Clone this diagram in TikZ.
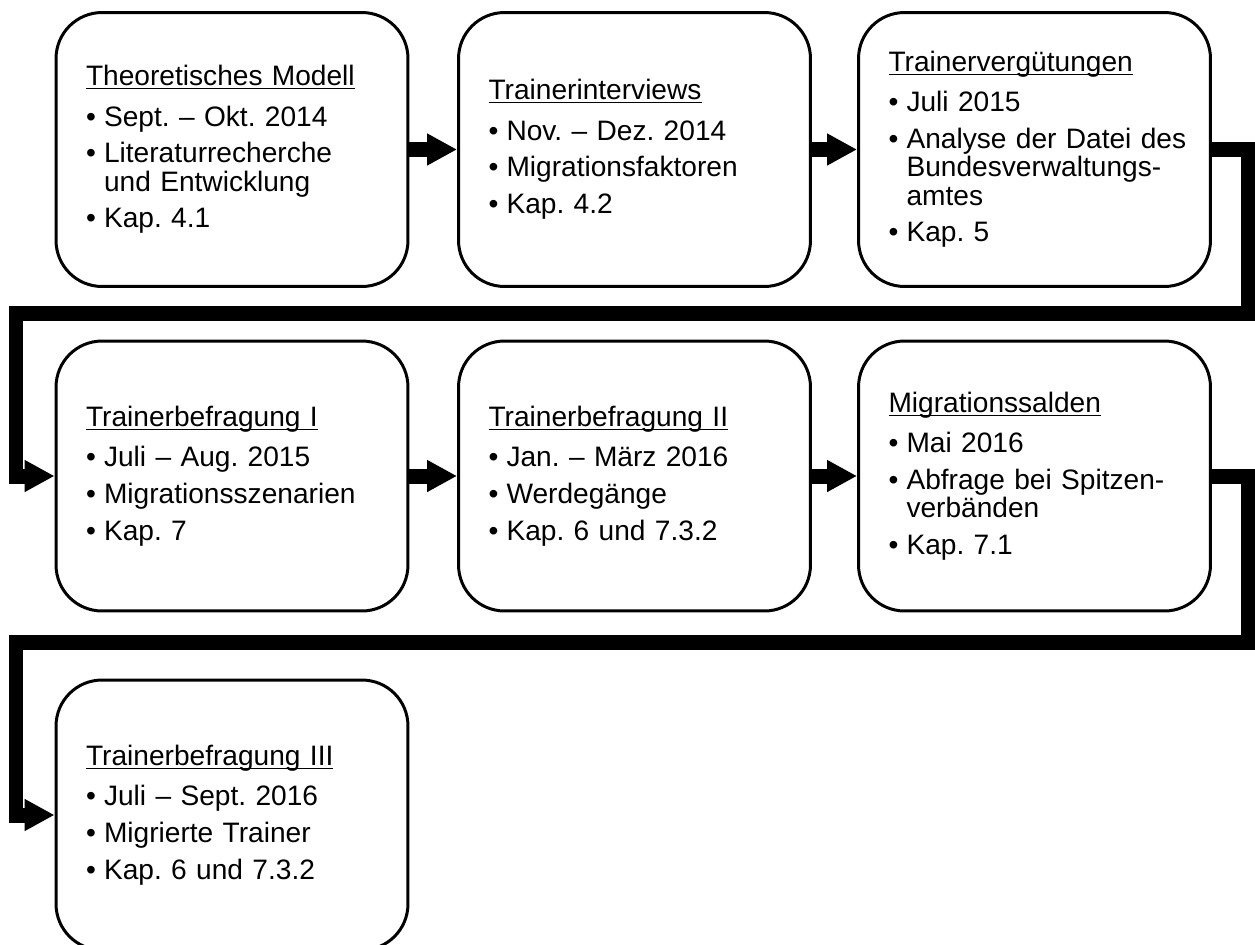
\documentclass[tikz,border=0pt]{standalone}
\usepackage{fontspec}
\setmainfont{Liberation Sans}
\usetikzlibrary{arrows.meta}
\frenchspacing

% underlined heading, bullet and hanging indent
\newcommand{\ttl}[1]{\setbox0\hbox{#1}\rlap{\rule[-2pt]{\wd0}{0.6pt}}\box0}
\newcommand{\bul}{\makebox[0.36cm][l]{\textbullet}}
\newcommand{\wrp}{\hspace*{0.36cm}}

\begin{document}
\begin{tikzpicture}[
    x=0.02cm, y=-0.02cm,
    box/.style={draw, line width=1.7pt, rounded corners=0.92cm, text width=5.84cm,
                inner xsep=0.6cm, align=left, font=\fontsize{16}{16}\selectfont},
    conn/.style={line width=0.3cm, -{Triangle[length=0.6cm, width=0.6cm]}}
  ]
  \useasboundingbox (0,0) rectangle (1255,944);

  % first row
  \node[box, minimum height=5.48cm] (b1) at (232,149.5)
       {\ttl{Theoretisches Modell}\\[7pt]
        \bul Sept. – Okt. 2014\\[5pt]
        \bul Literaturrecherche\\
        \wrp und Entwicklung\\[5pt]
        \bul Kap. 4.1};
  \node[box, minimum height=5.48cm] (b2) at (634.5,149.5)
       {\ttl{Trainerinterviews}\\[7pt]
        \bul Nov. – Dez. 2014\\[5pt]
        \bul Migrationsfaktoren\\[5pt]
        \bul Kap. 4.2};
  \node[box, minimum height=5.48cm] (b3) at (1034.5,149.5)
       {\ttl{Trainervergütungen}\\[7pt]
        \bul Juli 2015\\[5pt]
        \mbox{\bul Analyse der Datei des}\\
        \wrp Bundesverwaltungs-\\
        \wrp amtes\\[5pt]
        \bul Kap. 5};

  % second row
  \node[box, minimum height=5.4cm] (b4) at (232,476)
       {\ttl{Trainerbefragung I}\\[7pt]
        \bul Juli – Aug. 2015\\[5pt]
        \bul Migrationsszenarien\\[5pt]
        \bul Kap. 7};
  \node[box, minimum height=5.4cm] (b5) at (634.5,476)
       {\ttl{Trainerbefragung II}\\[7pt]
        \bul Jan. – März 2016\\[5pt]
        \bul Werdegänge\\[5pt]
        \bul Kap. 6 und 7.3.2};
  \node[box, minimum height=5.4cm] (b6) at (1034.5,476)
       {\ttl{Migrationssalden}\\[7pt]
        \bul Mai 2016\\[5pt]
        \bul Abfrage bei Spitzen-\\
        \wrp verbänden\\[5pt]
        \bul Kap. 7.1};

  % third row
  \node[box, minimum height=5.4cm] (b7) at (232,815)
       {\ttl{Trainerbefragung III}\\[7pt]
        \bul Juli – Sept. 2016\\[5pt]
        \bul Migrierte Trainer\\[5pt]
        \bul Kap. 6 und 7.3.2};

  % arrows within a row
  \foreach \a/\b in {b1/b2, b2/b3, b4/b5, b5/b6}
    \draw[conn] (\a) -- (\b);

  % arrows from row to row
  \coordinate (r1) at (1248,313);
  \coordinate (l1) at (16,313);
  \coordinate (r2) at (1248,642);
  \coordinate (l2) at (16,642);
  \draw[conn] (b3.east) -| (r1) -- (l1) |- (b4.west);
  \draw[conn] (b6.east) -| (r2) -- (l2) |- (b7.west);
\end{tikzpicture}
\end{document}
